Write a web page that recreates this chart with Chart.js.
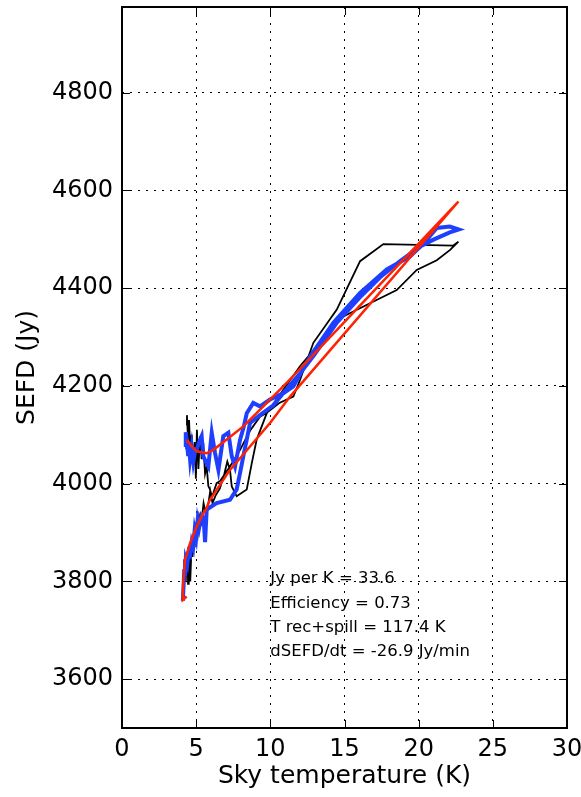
<!DOCTYPE html>
<html>
<head>
<meta charset="utf-8">
<title>SEFD vs sky temperature</title>
<script src="https://cdn.jsdelivr.net/npm/chart.js@4.4.1/dist/chart.umd.min.js"></script>
<style>
  html, body { margin: 0; padding: 0; background: #ffffff; }
  #wrap { width: 581px; height: 797px; }
</style>
</head>
<body>
<div id="wrap"><canvas id="grafico" width="581" height="797"></canvas></div>
<script>
// eixos
const xTicks = [0, 5, 10, 15, 20, 25, 30];
const yTicks = [3600, 3800, 4000, 4200, 4400, 4600, 4800];

// medida (preto): temperatura do céu (K) e SEFD (Jy), em ordem temporal
const pretoTsky = [
  4.33, 4.38, 4.45, 4.52, 4.60, 4.70, 4.80, 4.90, 4.98, 5.05, 5.15, 5.26, 5.37, 5.48,
  5.60, 5.71, 5.82, 5.93, 6.05, 6.16, 6.38, 6.60, 6.83, 7.28, 7.96, 8.63, 9.30, 9.76,
  10.60, 11.55, 12.00, 12.90, 14.48, 16.05, 17.62, 22.34, 22.68,
  22.12, 21.22, 19.87, 18.52, 16.72, 14.92, 14.03, 13.13, 12.00, 10.88, 9.76, 9.08,
  8.75, 8.41, 7.73, 7.40, 7.28, 7.10, 6.90, 6.60, 6.30, 6.10, 5.95, 5.80, 5.60, 5.50,
  5.35, 5.20, 5.10, 5.00, 4.90, 4.85, 4.75, 4.70, 4.60, 4.55, 4.50, 4.45, 4.40, 4.35,
  4.30, 4.25, 4.20
];
const pretoSefd = [
  4120, 4140, 4090, 4130, 4070, 4100, 4040, 4085, 4010, 4110, 4030, 4097, 4050, 4083,
  4020, 4035, 3995, 3988, 3975, 3981, 4001, 4005, 4015, 4035, 4069, 4108, 4137, 4145,
  4165, 4178, 4212, 4288, 4356, 4455, 4490, 4487, 4495,
  4478, 4457, 4437, 4396, 4369, 4342, 4315, 4281, 4240, 4192, 4144, 4090,
  4042, 3988, 3974, 3994, 4028, 4045, 4020, 3990, 3975, 3960, 3985, 3955, 3945, 3960,
  3920, 3935, 3895, 3910, 3870, 3900, 3850, 3880, 3800, 3860, 3795, 3840, 3810, 3850,
  3800, 3830, 3800
];

// medida (azul)
const azulTsky = [
  4.25, 4.30, 4.36, 4.45, 4.50, 4.59, 4.70, 4.81, 4.95, 5.04, 5.20, 5.37, 5.48, 5.65,
  5.82, 6.05, 6.27, 6.50, 6.83, 7.17, 7.40, 7.62, 7.96, 8.20, 8.41, 8.85, 9.30, 9.98,
  10.88, 11.55, 12.68, 14.25, 16.05, 17.85, 19.42, 20.30, 21.22, 22.10, 22.70,
  22.10, 21.00, 20.10, 18.75, 17.50, 16.00, 14.50, 13.00, 12.00, 11.00, 10.20, 9.30,
  8.63, 8.41, 8.18, 7.96, 7.73, 7.28, 6.38, 5.71, 5.60, 5.50, 5.35, 5.20, 5.10, 5.00,
  4.90, 4.80, 4.70, 4.60, 4.50, 4.40, 4.30, 4.25, 4.20, 4.15, 4.10
];
const azulSefd = [
  4075, 4105, 4090, 4060, 4085, 4050, 4075, 4045, 4070, 4069, 4085, 4097, 4056, 4045,
  4035, 4104, 4063, 4028, 4097, 4104, 4056, 4035, 4090, 4115, 4144, 4165, 4158, 4172,
  4185, 4199, 4260, 4329, 4390, 4438, 4465, 4490, 4523, 4526, 4520,
  4514, 4499, 4485, 4455, 4425, 4380, 4330, 4265, 4225, 4190, 4160, 4140,
  4124, 4090, 4056, 4022, 3988, 3967, 3960, 3947, 3880, 3930, 3935, 3910, 3925, 3890,
  3905, 3870, 3880, 3855, 3860, 3835, 3845, 3810, 3825, 3790, 3760
];

// modelo ajustado (vermelho)
const ajusteTsky = [
  4.32, 4.47, 4.70, 5.04, 5.71, 6.16, 7.06, 8.18, 9.53, 10.65, 11.33, 22.68,
  11.33, 9.98, 8.63, 7.28, 5.93, 5.60, 5.48, 5.04, 4.59, 4.25, 4.14, 4.10, 4.10, 4.36
];
const ajusteSefd = [
  4086, 4086, 4076, 4066, 4062, 4069, 4090, 4117, 4158, 4192, 4213, 4577,
  4178, 4124, 4076, 4028, 3967, 3943, 3940, 3912, 3878, 3844, 3803, 3776, 3762, 3769
];

const resumo = [
  'Jy per K = 33.6',
  'Efficiency = 0.73',
  'T rec+spill = 117.4 K',
  'dSEFD/dt = -26.9 Jy/min'
];

function pares(xs, ys) {
  return xs.map((x, i) => ({ x: x, y: ys[i] }));
}

const FONTE = '"DejaVu Sans", sans-serif';

// moldura, ticks para dentro e texto do resumo
const molduraPlugin = {
  id: 'moldura',
  afterDatasetsDraw(chart) {
    const { ctx, chartArea: a, scales } = chart;
    const tam = 8;
    ctx.save();
    ctx.strokeStyle = '#000000';
    ctx.lineWidth = 1;
    ctx.beginPath();
    xTicks.forEach(v => {
      const px = Math.round(scales.x.getPixelForValue(v)) + 0.5;
      ctx.moveTo(px, a.bottom); ctx.lineTo(px, a.bottom - tam);
      ctx.moveTo(px, a.top); ctx.lineTo(px, a.top + tam);
    });
    yTicks.forEach(v => {
      const py = Math.round(scales.y.getPixelForValue(v)) + 0.5;
      ctx.moveTo(a.left, py); ctx.lineTo(a.left + tam, py);
      ctx.moveTo(a.right, py); ctx.lineTo(a.right - tam, py);
    });
    ctx.stroke();

    ctx.lineWidth = 2;
    ctx.strokeRect(a.left, a.top, a.right - a.left, a.bottom - a.top);

    ctx.fillStyle = '#000000';
    ctx.font = '16.5px ' + FONTE;
    ctx.textAlign = 'left';
    ctx.textBaseline = 'alphabetic';
    const x0 = scales.x.getPixelForValue(10);
    const y0 = scales.y.getPixelForValue(3800) + 2;
    resumo.forEach((linha, i) => ctx.fillText(linha, x0, y0 + i * 24.3));
    ctx.restore();
  }
};

const ctx = document.getElementById('grafico');
new Chart(ctx, {
  type: 'scatter',
  data: {
    datasets: [
      {
        label: 'ajuste',
        data: pares(ajusteTsky, ajusteSefd),
        showLine: true,
        borderColor: '#ff2200',
        borderWidth: 2.5,
        pointRadius: 0,
        tension: 0,
        order: 0
      },
      {
        label: 'azul',
        data: pares(azulTsky, azulSefd),
        showLine: true,
        borderColor: '#1f3fff',
        borderWidth: 4,
        pointRadius: 0,
        tension: 0,
        order: 1
      },
      {
        label: 'preto',
        data: pares(pretoTsky, pretoSefd),
        showLine: true,
        borderColor: '#000000',
        borderWidth: 1.8,
        pointRadius: 0,
        tension: 0,
        order: 2
      }
    ]
  },
  options: {
    responsive: false,
    animation: false,
    devicePixelRatio: 1,
    layout: { padding: { top: 7, right: 14, left: 0, bottom: 0 } },
    plugins: {
      legend: { display: false },
      tooltip: { enabled: false }
    },
    scales: {
      x: {
        type: 'linear',
        min: 0,
        max: 30,
        afterBuildTicks: s => { s.ticks = xTicks.map(v => ({ value: v })); },
        afterFit: s => { s.height = 69; s.paddingLeft = 0; s.paddingRight = 0; },
        grid: { color: '#000000', lineWidth: 1, drawTicks: false },
        border: { display: false, dash: [2, 6] },
        ticks: {
          color: '#000000', padding: 7, maxRotation: 0,
          font: { family: FONTE, size: 24 },
          callback: v => String(v)
        },
        title: {
          display: true,
          text: 'Sky temperature (K)',
          color: '#000000',
          font: { family: FONTE, size: 25 },
          padding: { top: 0, bottom: 6 }
        }
      },
      y: {
        type: 'linear',
        min: 3500,
        max: 4975,
        afterBuildTicks: s => { s.ticks = yTicks.map(v => ({ value: v })); },
        afterFit: s => { s.width = 122; s.paddingTop = 0; s.paddingBottom = 0; },
        grid: { color: '#000000', lineWidth: 1, drawTicks: false },
        border: { display: false, dash: [2, 6] },
        ticks: {
          color: '#000000', padding: 9,
          font: { family: FONTE, size: 24 },
          callback: v => String(v)
        },
        title: {
          display: true,
          text: 'SEFD (Jy)',
          color: '#000000',
          font: { family: FONTE, size: 25 },
          padding: { top: 12, bottom: 0 }
        }
      }
    }
  },
  plugins: [molduraPlugin]
});
</script>
</body>
</html>
